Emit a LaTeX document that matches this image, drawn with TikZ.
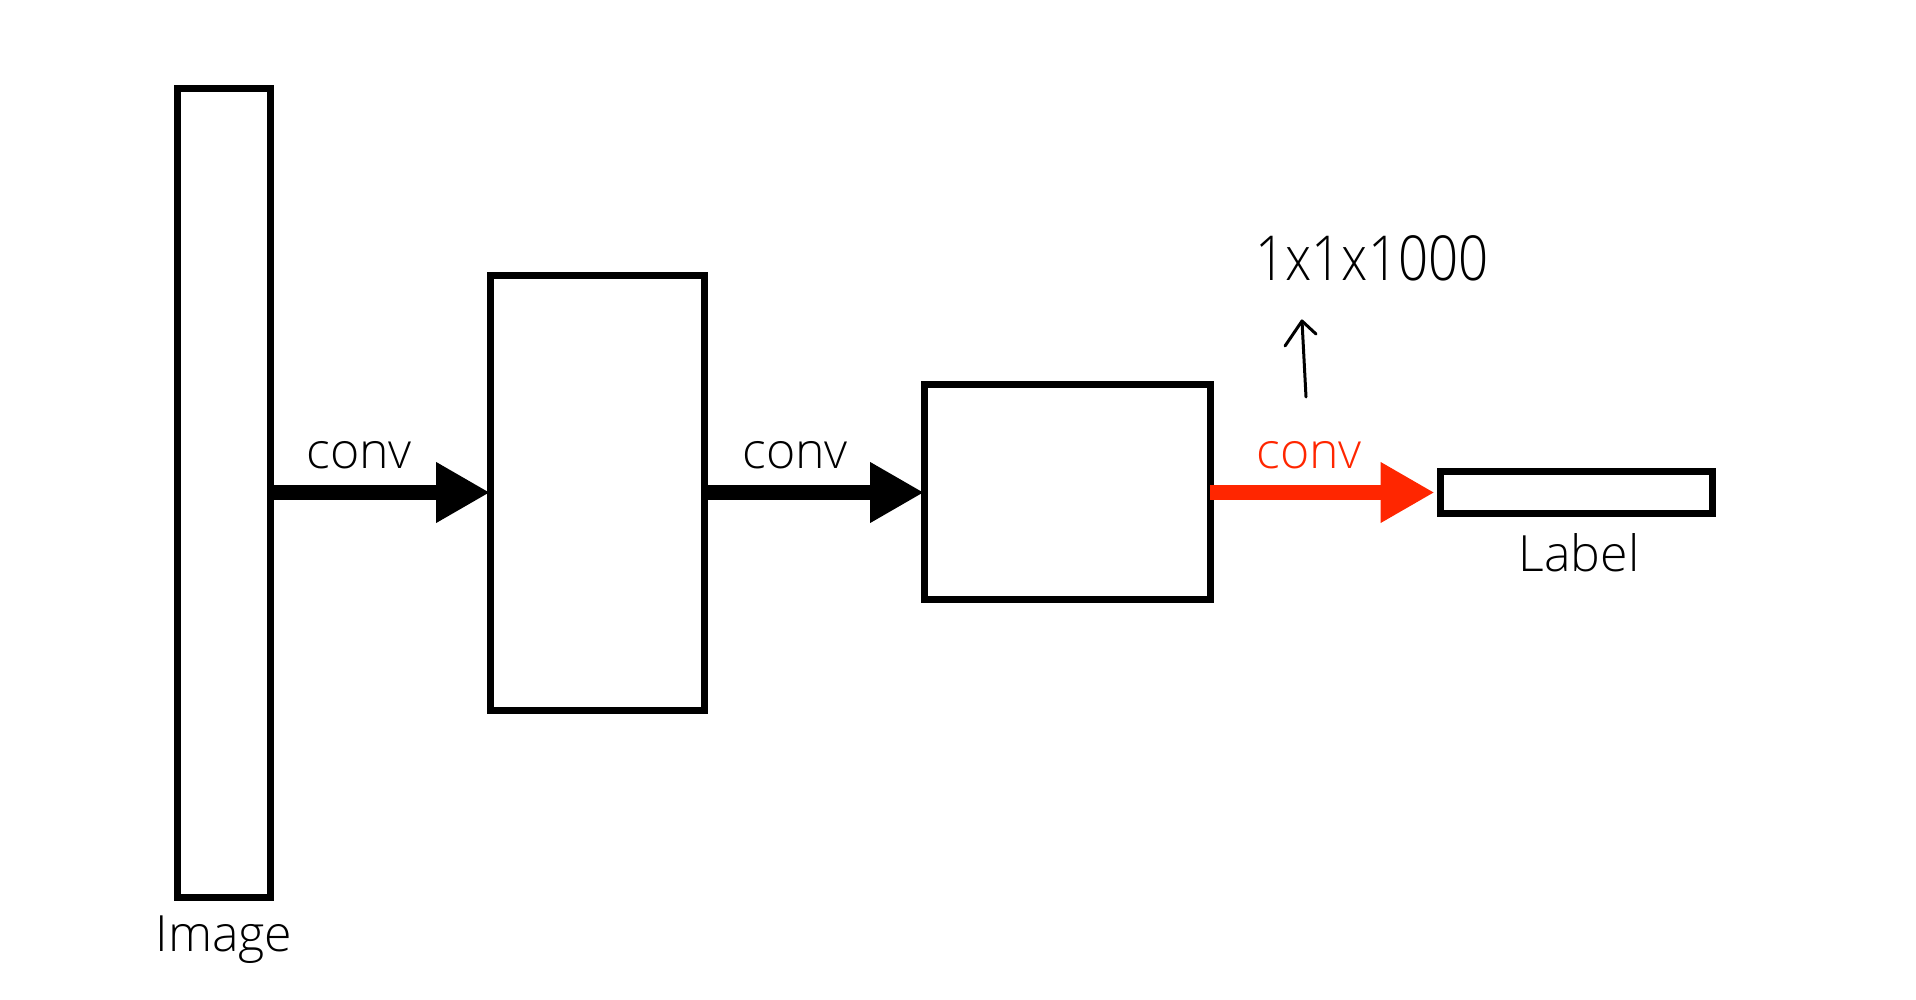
\documentclass[tikz,border=0pt]{standalone}
\usepackage{fontspec}
\setmainfont{Open Sans Light}
\usetikzlibrary{arrows.meta}
\definecolor{convred}{RGB}{255,38,0}
\tikzset{
  layer/.style={draw=black, line width=7pt, inner sep=0pt, outer sep=0pt, fill=white},
  flow/.style={line width=15pt, -{Triangle[length=54pt,width=57pt]}},
  lbl/.style={font=\fontsize{50}{58}\selectfont, inner sep=0pt},
}
\begin{document}
\begin{tikzpicture}[x=1pt,y=-1pt]
\useasboundingbox (0,0) rectangle (1916,1000);
\node[layer, minimum width=93pt, minimum height=808pt] (img) at (223.5,493) {};
\node[layer, minimum width=214pt, minimum height=435pt] (b2) at (597,493) {};
\node[layer, minimum width=286pt, minimum height=215pt] (b3) at (1067,492) {};
\node[layer, minimum width=272pt, minimum height=42pt] (lab) at (1576.5,492.5) {};

\draw[flow] (img.east|-0,492.5) -- (b2.west|-0,492.5);
\draw[flow] (b2.east|-0,492.5) -- (b3.west|-0,492.5);
\draw[flow, draw=convred, fill=convred, shorten >=6pt] (b3.east|-0,492.5) -- (lab.west|-0,492.5);

\node[lbl] (c1) at (359,455) {conv};
\node[lbl] (c2) at (795,455) {conv};
\node[lbl, text=convred] (c3) at (1309,455) {conv};
\node[lbl] (tImg) at (224,940) {Image};
\node[lbl] (tLab) at (1579,553) {Label};

\node[font=\fontsize{62}{62}\selectfont, xscale=0.85, inner sep=0pt] (dim) at (1372,258) {1x1x1000};
\coordinate (arrS) at (1306,397);
\coordinate (arrT) at (1302,321);
\draw[line width=3pt, line cap=round, line join=round] (arrS) -- (arrT);
\draw[line width=3pt, line cap=round, line join=round] (1285,346) -- (arrT) -- (1316,334);
\end{tikzpicture}
\end{document}
